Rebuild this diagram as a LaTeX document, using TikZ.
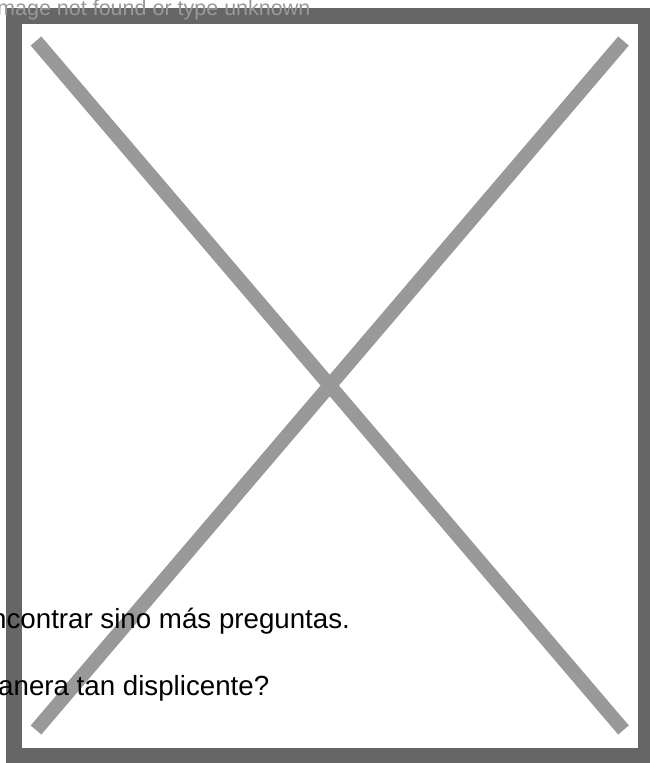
\documentclass[tikz,border=0pt]{standalone}
\usepackage{fontspec}
\setmainfont{Liberation Sans}
\usetikzlibrary{positioning}
\definecolor{FrameGray}{HTML}{666666}
\definecolor{CrossGray}{HTML}{999999}

\begin{document}
\begin{tikzpicture}[
		x=1pt, y=-1pt,
		FrameCfg/.style={draw=FrameGray, line width=16pt},
		CrossCfg/.style={draw=CrossGray, line width=14pt, line cap=butt},
		TextCfg/.style={inner sep=0pt, anchor=base west},
		BodyCfg/.style={TextCfg, font=\fontsize{27.7}{32}\selectfont}
		]
		
		\useasboundingbox (0,0) rectangle (649,763);
		
		% frame and cross
		\draw[FrameCfg] (13.5,15.5) rectangle (646,756);
		
		\coordinate (TL) at (36,41);
		\coordinate (TR) at (623.5,41);
		\coordinate (BL) at (36,730);
		\coordinate (BR) at (623.5,730);
		
		\draw[CrossCfg] (TL) -- (BR);
		\draw[CrossCfg] (TR) -- (BL);
		
		% texts
		\path
		(-3,15.5) node [TextCfg, text=CrossGray, font=\fontsize{21.5}{24}\selectfont] (Msg) {mage not found or type unknown}
		(-9,628) node [BodyCfg] (LineA) {ncontrar sino más preguntas.}
		(-2,695) node [BodyCfg] (LineB) {anera tan displicente?};
		
\end{tikzpicture}
\end{document}
